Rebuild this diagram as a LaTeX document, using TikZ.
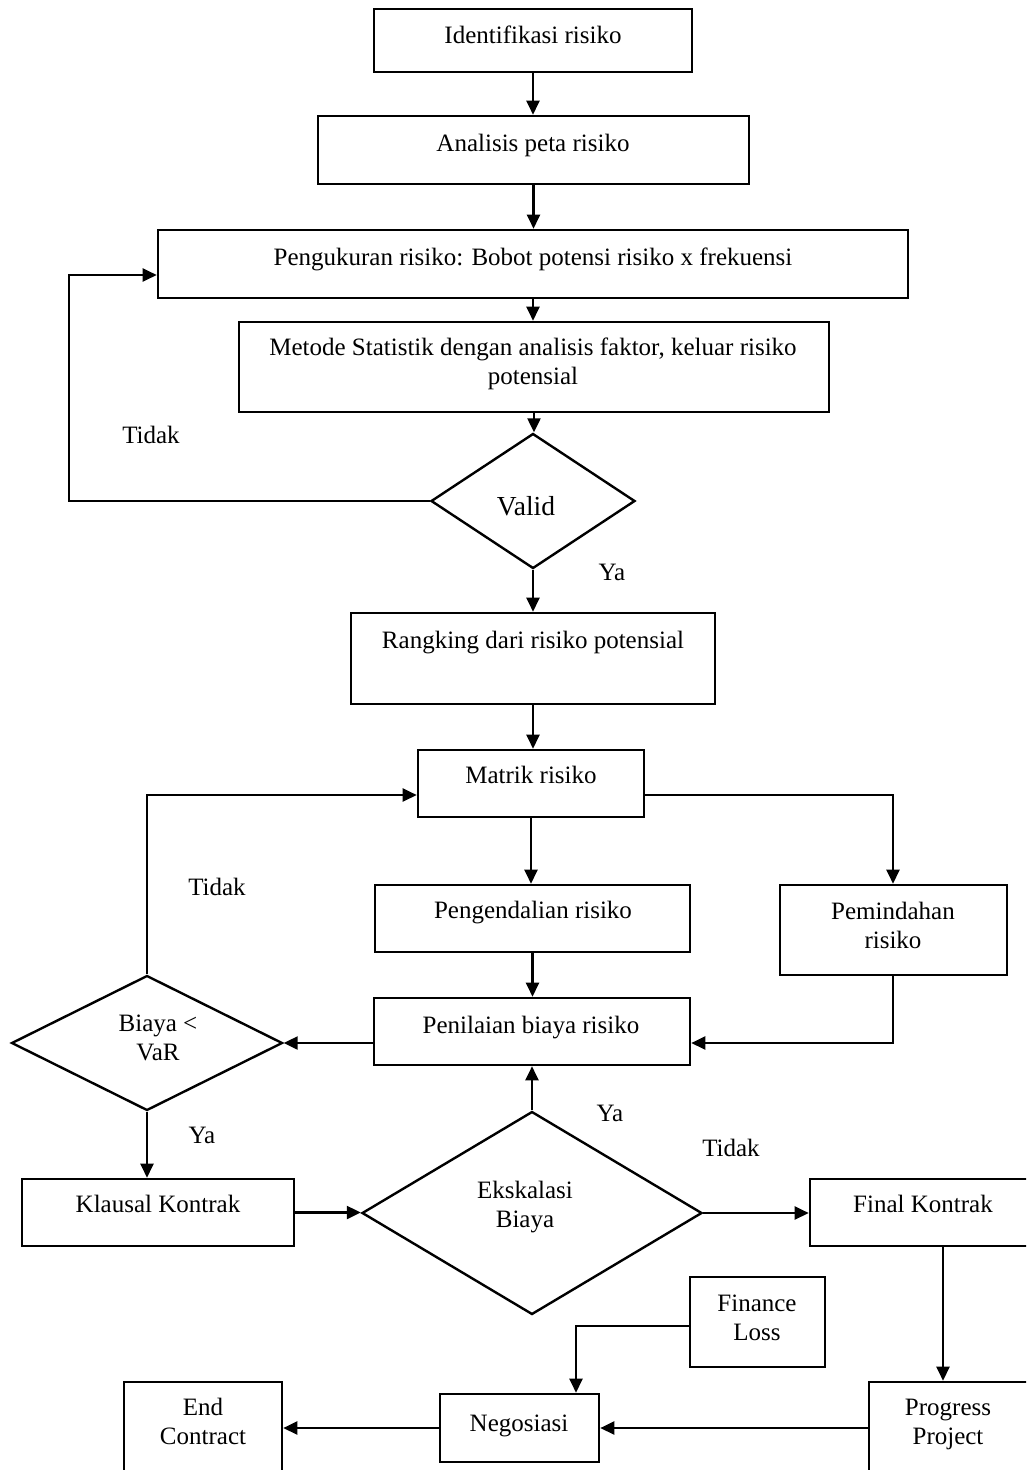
\documentclass[tikz,border=0pt]{standalone}
\usepackage{fontspec}
\setmainfont{Liberation Serif}
\usetikzlibrary{arrows.meta,shapes.geometric}
\newcommand{\mybox}[5]{\node[box, minimum width={(#4-#2)*1pt}, minimum height={(#5-#3)*1pt}] (#1) at ({(#2+#4)/2},{(#3+#5)/2}) {};}
\begin{document}
\begin{tikzpicture}[x=1pt,y=-1pt,
  box/.style={draw, line width=2.6pt, rectangle, inner sep=0pt},
  dia/.style={draw, line width=2.4pt, diamond, inner sep=0pt},
  txt/.style={font=\fontsize{25}{29}\selectfont, inner sep=0pt, align=center, text height=17pt, text depth=0pt},
  con/.style={line width=2.3pt, -{Triangle[width=13pt,length=14pt]}},
]
\useasboundingbox (0,0) rectangle (1026,1470);
\clip (0,0) rectangle (1026,1470);

% boxes
\mybox{b1}{374}{9}{692}{72}
\mybox{b2}{318}{116}{749}{184}
\mybox{b3}{158}{230}{908}{298}
\mybox{b4}{239}{322}{829}{412}
\mybox{b5}{351}{613}{715}{704}
\mybox{b6}{418}{750}{644}{817}
\mybox{b7}{375}{885}{690}{952}
\mybox{b8}{780}{885}{1007}{975}
\mybox{b9}{374}{998}{690}{1065}
\mybox{b10}{22}{1179}{294}{1246}
\mybox{b11}{810}{1179}{1036}{1246}
\mybox{b12}{690}{1277}{825}{1367}
\mybox{b13}{869}{1382}{1032}{1520}
\mybox{b14}{440}{1394}{599}{1462}
\mybox{b15}{124}{1382}{282}{1520}

% diamonds
\node[dia, minimum width=204pt, minimum height=135pt] (d1) at (533,501) {};
\node[dia, minimum width=271pt, minimum height=135pt] (d2) at (147,1043) {};
\node[dia, minimum width=340pt, minimum height=203pt] (d3) at (532,1213) {};

% texts (multi-line nodes are placed at the middle of their last line)
\node[txt] (t1) at (533,35) {Identifikasi risiko};
\node[txt] (t2) at (533,143) {Analisis peta risiko};
\node[txt] (t3) at (533,257) {Pengukuran risiko: Bobot potensi risiko x frekuensi};
\node[txt] (t4) at (533,376) {Metode Statistik dengan analisis faktor, keluar risiko\\potensial};
\node[txt, font=\fontsize{27.5}{31}\selectfont, text height=18pt] (t5) at (526,506) {Valid};
\node[txt] (t6) at (533,640) {Rangking dari risiko potensial};
\node[txt] (t7) at (531,775) {Matrik risiko};
\node[txt] (t8) at (533,910) {Pengendalian risiko};
\node[txt] (t9) at (893,940) {Pemindahan\\risiko};
\node[txt] (t10) at (531,1025) {Penilaian biaya risiko};
\node[txt] (t11) at (158,1052) {Biaya <\\VaR};
\node[txt] (t12) at (158,1204) {Klausal Kontrak};
\node[txt] (t13) at (525,1219) {Ekskalasi\\Biaya};
\node[txt] (t14) at (923,1204) {Final Kontrak};
\node[txt] (t15) at (757,1332) {Finance\\Loss};
\node[txt] (t16) at (948,1436) {Progress\\Project};
\node[txt] (t17) at (519,1423) {Negosiasi};
\node[txt] (t18) at (203,1436) {End\\Contract};

% edge labels
\node[txt] (l1) at (151,435) {Tidak};
\node[txt] (l2) at (612,572) {Ya};
\node[txt] (l3) at (217,887) {Tidak};
\node[txt] (l4) at (202,1135) {Ya};
\node[txt] (l5) at (610,1113) {Ya};
\node[txt] (l6) at (731,1148) {Tidak};

% connectors
\draw[con] (b1.south) -- (b1.south |- b2.north);
\draw[con] (b2.south) -- (b2.south |- b3.north);
\draw[con] (b3.south) -- (b3.south |- b4.north);
\draw[con] (b4.south) -- (b4.south |- d1.north);
\draw[con] (d1.west) -- (69,0 |- d1.west) |- (b3.west |- 0,275);
\draw[con] (d1.south) -- (d1.south |- b5.north);
\draw[con] (b5.south) -- (b5.south |- b6.north);
\draw[con] (d2.north) |- (b6.west |- 0,795);
\draw[con] (b6.east |- 0,795) -| (893,0 |- b8.north);
\draw[con] (b6.south) -- (b6.south |- b7.north);
\draw[con] (b7.south) -- (b7.south |- b9.north);
\draw[con] (893,0 |- b8.south) |- (b9.east |- d2.east);
\draw[con] (b9.west |- d2.east) -- (d2.east);
\draw[con] (d2.south) -- (d2.south |- b10.north);
\draw[con] (b10.east) -- (d3.west |- b10.east);
\draw[con] (d3.north) -- (d3.north |- b9.south);
\draw[con] (d3.east) -- (b11.west |- d3.east);
\draw[con] (943,0 |- b11.south) -- (943,0 |- b13.north);
\draw[con] (b12.west |- 0,1326) -| (576,0 |- b14.north);
\draw[con] (b13.west |- b14.east) -- (b14.east);
\draw[con] (b14.west) -- (b15.east |- b14.west);
\end{tikzpicture}
\end{document}
